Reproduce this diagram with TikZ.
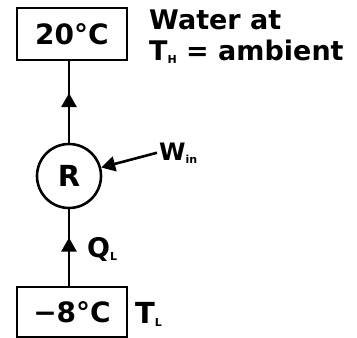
\documentclass[tikz,border=0pt]{standalone}
\usepackage{fontspec}
\setmainfont{DejaVu Sans}
\usetikzlibrary{positioning,arrows.meta,decorations.markings}
\newcommand{\lowsub}[1]{\raisebox{-3pt}{\fontsize{11}{11}\selectfont #1}}
\tikzset{
  >={Triangle[length=14pt,width=15pt]},
  tank/.style={draw, line width=2.6pt, minimum width=110pt, minimum height=#1,
               inner sep=0pt, font=\bfseries\fontsize{28}{28}\selectfont},
  tank/.default=52pt,
  cycle/.style={draw, circle, line width=2.6pt, minimum size=64pt, inner sep=0pt,
                font=\bfseries\fontsize{29}{29}\selectfont},
  lab/.style={inner sep=0pt, font=\bfseries\fontsize{#1}{#1}\selectfont},
  lab/.default=27,
  flow/.style={->, line width=2.6pt},
  link/.style={line width=2.6pt},
  midarrow/.style={postaction={decorate}, decoration={markings,
                   mark=at position #1 with {\arrow{>}}}}
}
\begin{document}
\begin{tikzpicture}[x=1pt,y=-1pt]
\useasboundingbox (0,0) rectangle (357,338);
% reservoirs and refrigerator
\node[tank] (hot) at (72,34) {20°C};
\node[cycle] (R) at (69,176) {R};
\node[tank=50pt] (cold) at (72,312) {−8°C};
% labels
\node[lab, anchor=base west] (waterA) at (149,29) {Water at};
\node[lab, anchor=base west] (waterB) at (149,60) {T\lowsub{H} = ambient};
\node[lab=24, anchor=base west] (win) at (159,160) {W\lowsub{in}};
\node[lab=27, anchor=base west] (ql) at (87,257) {Q\lowsub{L}};
\node[lab=29, anchor=base west] (tl) at (135,323) {T\lowsub{L}};
% heat and work flows
\draw[link, midarrow=0.61] (R.north) -- (R.north |- hot.south);
\draw[link, midarrow=0.63] (R.south |- cold.north) -- (R.south);
\draw[flow] ([xshift=-2pt]win.west) -- (R);
\end{tikzpicture}
\end{document}
